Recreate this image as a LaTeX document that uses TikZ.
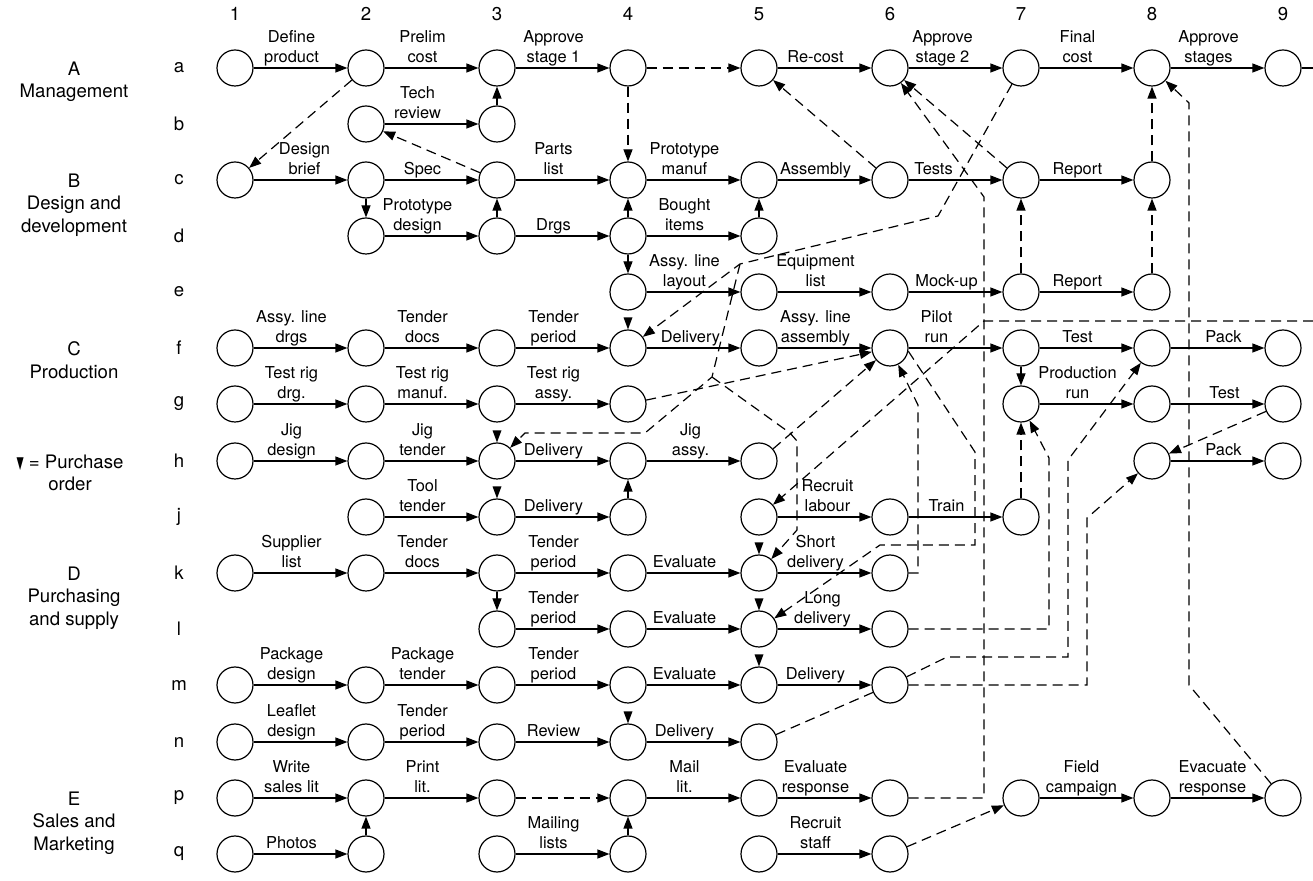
\documentclass[tikz,border=0pt]{standalone}
\usepackage{fontspec}
\setmainfont{TeX Gyre Heros}
\newfontfamily\symf{DejaVu Sans}
\usetikzlibrary{arrows.meta}
\newcommand\lblf{\fontsize{8.2}{10}\selectfont}
\newcommand\secf{\fontsize{9.3}{11.3}\selectfont}
\begin{document}
\begin{tikzpicture}[x=0.5pt,y=-0.5pt,
  ev/.style={circle,draw,line width=0.6pt,minimum size=18pt,inner sep=0pt},
  act/.style={line width=0.6pt,-{Triangle[length=6pt,width=4.5pt]}},
  dep/.style={act,dash pattern=on 5pt off 3pt},
  dln/.style={line width=0.6pt,dash pattern=on 5pt off 3pt},
  sln/.style={line width=0.6pt},
  lbl/.style={pos=0.5,anchor=south,align=center,font=\lblf,inner sep=1pt,yshift=1.4pt,xshift=#1,text depth=0pt},
  lbl/.default=-4.5pt,
  sec/.style={anchor=north,align=center,font=\secf,inner sep=0pt},
  rl/.style={font=\secf,inner sep=0pt}]
\useasboundingbox (0,0) rectangle (1313,881);

% column numbers and row letters
\foreach \c in {1,...,9} \node[rl] (col\c) at ({104+131*\c},14) {\c};
\foreach \r/\y in {a/68,b/124,c/180,d/236,e/292,f/348,g/404,h/461,j/517,k/573,l/629,m/685,n/742,p/798,q/854}
  \node[rl] (row\r) at (179,\y) {\r};

% section labels
\node[sec] (secA) at (74,61.3) {A\\Management};
\node[sec] (secB) at (74,173.3) {B\\Design and\\development};
\node[sec] (secC) at (74,341.3) {C\\Production};
\node[sec] (leg) at (70,454.3) {{\symf\scalebox{0.5}[0.9]{▼}} = Purchase\\order};
\node[sec] (secD) at (74,566.3) {D\\Purchasing\\and supply};
\node[sec] (secE) at (74,791.3) {E\\Sales and\\Marketing};

% events
\foreach \c in {1,...,9} \node[ev] (a\c) at ({104+131*\c},68) {};
\foreach \c in {2,3} \node[ev] (b\c) at ({104+131*\c},124) {};
\foreach \c in {1,...,8} \node[ev] (c\c) at ({104+131*\c},180) {};
\foreach \c in {2,3,4,5} \node[ev] (d\c) at ({104+131*\c},236) {};
\foreach \c in {4,5,6,7,8} \node[ev] (e\c) at ({104+131*\c},292) {};
\foreach \c in {1,...,9} \node[ev] (f\c) at ({104+131*\c},348) {};
\foreach \c in {1,2,3,4,7,8,9} \node[ev] (g\c) at ({104+131*\c},404) {};
\foreach \c in {1,2,3,4,5,8,9} \node[ev] (h\c) at ({104+131*\c},461) {};
\foreach \c in {2,3,4,5,6,7} \node[ev] (j\c) at ({104+131*\c},517) {};
\foreach \c in {1,...,6} \node[ev] (k\c) at ({104+131*\c},573) {};
\foreach \c in {3,4,5,6} \node[ev] (l\c) at ({104+131*\c},629) {};
\foreach \c in {1,...,6} \node[ev] (m\c) at ({104+131*\c},685) {};
\foreach \c in {1,...,5} \node[ev] (n\c) at ({104+131*\c},742) {};
\foreach \c in {1,...,9} \node[ev] (p\c) at ({104+131*\c},798) {};
\foreach \c in {1,...,6} \node[ev] (q\c) at ({104+131*\c},854) {};

% purchase order marks
\foreach \n in {f4,h3,j3,k5,l5,m5,n4}
  \fill (\n.north) -- ++(-4.5,-12) -- ++(9,0) -- cycle;

% row a
\draw[act] (a1) -- node[lbl]{Define\\product} (a2);
\draw[act] (a2) -- node[lbl]{Prelim\\cost} (a3);
\draw[act] (a3) -- node[lbl]{Approve\\stage 1} (a4);
\draw[dep] (a4) -- (a5);
\draw[act] (a5) -- node[lbl]{Re-cost} (a6);
\draw[act] (a6) -- node[lbl=-6.5pt]{Approve\\stage 2} (a7);
\draw[act] (a7) -- node[lbl]{Final\\cost} (a8);
\draw[act] (a8) -- node[lbl]{Approve\\stages} (a9);
\coordinate (a9out) at (1313,68);
\draw[sln] (a9) -- (a9out);
% row b
\draw[act] (b2) -- node[lbl=-7pt]{Tech\\review} (b3);
\draw[act] (b3) -- (a3);
% row c
\draw[act] (c1) -- node[lbl=2pt]{Design\\brief} (c2);
\draw[act] (c2) -- node[lbl]{Spec} (c3);
\draw[act] (c3) -- node[lbl]{Parts\\list} (c4);
\draw[act] (c4) -- node[lbl]{Prototype\\manuf} (c5);
\draw[act] (c5) -- node[lbl]{Assembly} (c6);
\draw[act] (c6) -- node[lbl=-11pt]{Tests} (c7);
\draw[act] (c7) -- node[lbl]{Report} (c8);
\draw[act] (c2) -- (d2);
% row d
\draw[act] (d2) -- node[lbl=-7pt]{Prototype\\design} (d3);
\draw[act] (d3) -- node[lbl]{Drgs} (d4);
\draw[act] (d4) -- node[lbl]{Bought\\items} (d5);
\draw[act] (d3) -- (c3);
\draw[act] (d4) -- (c4);
\draw[act] (d5) -- (c5);
\draw[act] (d4) -- (e4);
% row e
\draw[act] (e4) -- node[lbl]{Assy. line\\layout} (e5);
\draw[act] (e5) -- node[lbl]{Equipment\\list} (e6);
\draw[act] (e6) -- node[lbl]{Mock-up} (e7);
\draw[act] (e7) -- node[lbl]{Report} (e8);
% row f
\draw[act] (f1) -- node[lbl]{Assy. line\\drgs} (f2);
\draw[act] (f2) -- node[lbl]{Tender\\docs} (f3);
\draw[act] (f3) -- node[lbl]{Tender\\period} (f4);
\draw[act] (f4) -- node[lbl=-1.5pt]{Delivery} (f5);
\draw[act] (f5) -- node[lbl]{Assy. line\\assembly} (f6);
\draw[act] (f6) -- node[lbl=-9.5pt]{Pilot\\run} (f7);
\draw[act] (f7) -- node[lbl]{Test} (f8);
\draw[act] (f8) -- node[lbl=3pt]{Pack} (f9);
\draw[act] (f7) -- (g7);
% row g
\draw[act] (g1) -- node[lbl]{Test rig\\drg.} (g2);
\draw[act] (g2) -- node[lbl]{Test rig\\manuf.} (g3);
\draw[act] (g3) -- node[lbl]{Test rig\\assy.} (g4);
\draw[act] (g7) -- node[lbl]{Production\\run} (g8);
\draw[act] (g8) -- node[lbl=3.5pt]{Test} (g9);
% row h
\draw[act] (h1) -- node[lbl]{Jig\\design} (h2);
\draw[act] (h2) -- node[lbl]{Jig\\tender} (h3);
\draw[act] (h3) -- node[lbl]{Delivery} (h4);
\draw[act] (h4) -- node[lbl=-1.5pt]{Jig\\assy.} (h5);
\draw[act] (h8) -- node[lbl=3pt]{Pack} (h9);
\draw[act] (j4) -- (h4);
% row j
\draw[act] (j2) -- node[lbl]{Tool\\tender} (j3);
\draw[act] (j3) -- node[lbl]{Delivery} (j4);
\draw[act] (j5) -- node[lbl=1.5pt]{Recruit\\labour} (j6);
\draw[act] (j6) -- node[lbl]{Train} (j7);
% row k
\draw[act] (k1) -- node[lbl]{Supplier\\list} (k2);
\draw[act] (k2) -- node[lbl]{Tender\\docs} (k3);
\draw[act] (k3) -- node[lbl]{Tender\\period} (k4);
\draw[act] (k4) -- node[lbl]{Evaluate} (k5);
\draw[act] (k5) -- node[lbl]{Short\\delivery} (k6);
\draw[act] (k3) -- (l3);
% row l
\draw[act] (l3) -- node[lbl]{Tender\\period} (l4);
\draw[act] (l4) -- node[lbl]{Evaluate} (l5);
\draw[act] (l5) -- node[lbl=-1pt]{Long\\delivery} (l6);
% row m
\draw[act] (m1) -- node[lbl]{Package\\design} (m2);
\draw[act] (m2) -- node[lbl]{Package\\tender} (m3);
\draw[act] (m3) -- node[lbl]{Tender\\period} (m4);
\draw[act] (m4) -- node[lbl]{Evaluate} (m5);
\draw[act] (m5) -- node[lbl]{Delivery} (m6);
% row n
\draw[act] (n1) -- node[lbl]{Leaflet\\design} (n2);
\draw[act] (n2) -- node[lbl]{Tender\\period} (n3);
\draw[act] (n3) -- node[lbl]{Review} (n4);
\draw[act] (n4) -- node[lbl]{Delivery} (n5);
% row p
\draw[act] (p1) -- node[lbl]{Write\\sales lit} (p2);
\draw[act] (p2) -- node[lbl]{Print\\lit.} (p3);
\draw[dep] (p3) -- (p4);
\draw[act] (p4) -- node[lbl]{Mail\\lit.} (p5);
\draw[act] (p5) -- node[lbl]{Evaluate\\response} (p6);
\draw[act] (p7) -- node[lbl=-2.5pt]{Field\\campaign} (p8);
\draw[act] (p8) -- node[lbl=-2.5pt]{Evacuate\\response} (p9);
% row q
\draw[act] (q1) -- node[lbl]{Photos} (q2);
\draw[act] (q3) -- node[lbl]{Mailing\\lists} (q4);
\draw[act] (q5) -- node[lbl]{Recruit\\staff} (q6);
\draw[act] (q2) -- (p2);
\draw[act] (q4) -- (p4);

% dependencies (dashed)
\draw[dep] (a2) -- (c1);
\draw[dep] (c3) -- (b2);
\draw[dep] (a4) -- (c4);
\draw[dep] (c6) -- (a5);
\draw[dep] (c7) -- (a6);
\draw[dep] (p6) -- (984,798) -- (984,197) -- (a6);
\draw[dep] (e7) -- (c7);
\draw[dep] (e8) -- (c8);
\draw[dep] (c8) -- (a8);
\draw[dep] (p9) -- (1189,685) -- (1189,103) -- (a8);
\coordinate (br1) at (740,264);
\coordinate (br2) at (712,377);
\draw[dep] (a7) -- (938,216) -- (br1) -- (f4);
\draw[dep] (br1) -- (br2) -- (645,433) -- (525,433) -- (h3);
\draw[dep] (br2) -- (790,433) -- (797,441) -- (797,530) -- (k5);
\draw[dep] (g4) -- (f6);
\draw[dep] (h5) -- (f6);
\coordinate (offr) at (1313,321);
\draw[dep] (offr) -- (984,321) -- (j5);
\draw[dep] (f6.-10) -- (975,452) -- (975,545) -- (880,545) -- (l5);
\draw[dep] (k6) -- (918,573) -- (918,405) -- (f6);
\draw[dep] (l6) -- (1049,629) -- (1049,458) -- (g7);
\draw[dep] (j7) -- (g7);
\draw[dep] (m6) -- (947,657) -- (1068,657) -- (1068,460) -- (f8);
\draw[dep] (m6) -- (1087,685) -- (1087,518) -- (h8);
\draw[dep] (g9) -- (h8);
\draw[dln] (n5) -- (m6);
\draw[dep] (q6) -- (p7);
\end{tikzpicture}
\end{document}
